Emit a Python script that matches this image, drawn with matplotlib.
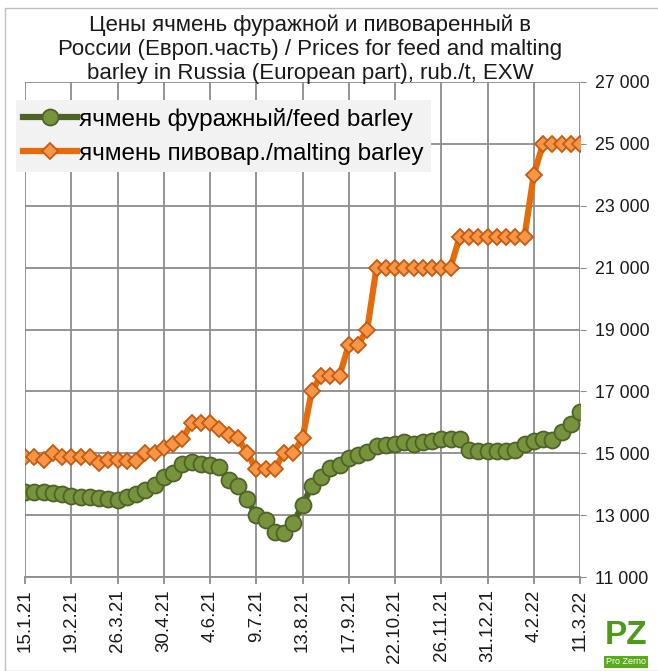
import matplotlib.pyplot as plt
from matplotlib.patches import Rectangle
from matplotlib.ticker import FuncFormatter

plt.rcParams['font.family'] = ['Liberation Sans', 'DejaVu Sans']

# weekly dates, one label every 5 weeks
tick_labels = ["15.1.21", "19.2.21", "26.3.21", "30.4.21", "4.6.21", "9.7.21",
               "13.8.21", "17.9.21", "22.10.21", "26.11.21", "31.12.21",
               "4.2.22", "11.3.22"]

feed_barley = [13750, 13750, 13750, 13720, 13680, 13620, 13570, 13570, 13540, 13520,
               13500, 13600, 13670, 13800, 13960, 14220, 14370, 14640, 14730, 14640,
               14620, 14540, 14140, 13940, 13520, 13000, 12840, 12460, 12430, 12750,
               13320, 13940, 14240, 14510, 14620, 14840, 14940, 15050, 15220, 15270,
               15300, 15350, 15300, 15350, 15400, 15460, 15460, 15450, 15110, 15080,
               15080, 15080, 15080, 15110, 15290, 15410, 15450, 15430, 15700, 15940,
               16320]

malting_barley = [14870, 14870, 14780, 15020, 14870, 14870, 14870, 14870, 14700, 14780,
                  14780, 14750, 14760, 15020, 15020, 15160, 15300, 15460, 15970, 15970,
                  15970, 15780, 15590, 15490, 15020, 14480, 14480, 14480, 15020, 15020,
                  15490, 17000, 17500, 17500, 17500, 18500, 18500, 19000, 21000, 21000,
                  21000, 21000, 21000, 21000, 21000, 21000, 21000, 22000, 22000, 22000,
                  22000, 22000, 22000, 22000, 22000, 24000, 25000, 25000, 25000, 25000,
                  25000]

title = ("Цены ячмень фуражной и пивоваренный в\n"
         "России (Европ.часть) / Prices for feed and malting\n"
         "barley in Russia (European part), rub./t, EXW")

grid_color = "#8c8c8c"

fig = plt.figure(figsize=(6.58, 6.71), dpi=100)
ax = fig.add_axes([25 / 658, 1 - 577 / 671, 555 / 658, 495 / 671])

weeks = list(range(len(feed_barley)))

ax.plot(weeks, feed_barley, color="#4f6228", linewidth=4.5, marker="o",
        markersize=11.5, markerfacecolor="#77933c", markeredgecolor="#4f6228",
        markeredgewidth=1.3, label="ячмень фуражный/feed barley", zorder=3)
ax.plot(weeks, malting_barley, color="#e46c0a", linewidth=4.5, marker="D",
        markersize=8.5, markerfacecolor="#f79646", markeredgecolor="#c55a11",
        markeredgewidth=1.3, label="ячмень пивовар./malting barley", zorder=4)

ax.set_xlim(0, len(weeks) - 1)
ax.set_ylim(11000, 27000)

ax.set_xticks(range(0, len(weeks), 5))
ax.set_xticklabels(tick_labels, rotation=90, fontsize=13.5, color="#1a1a1a")
ax.set_yticks(range(11000, 27001, 2000))
ax.yaxis.set_major_formatter(FuncFormatter(lambda v, p: "{:,.0f}".format(v).replace(",", " ")))
ax.yaxis.tick_right()
ax.tick_params(axis="y", labelsize=12.8, labelcolor="#1a1a1a", length=4,
               color=grid_color, pad=7)
ax.tick_params(axis="x", length=5, color=grid_color, width=1.3, pad=4)

ax.grid(True, color=grid_color, linewidth=1.3)
for side in ["top", "left", "right"]:
    ax.spines[side].set_visible(False)
ax.spines["bottom"].set_color(grid_color)
ax.spines["bottom"].set_linewidth(1.3)
ax.set_axisbelow(True)

leg = ax.legend(loc="upper left", bbox_to_anchor=(-0.016, 0.963), fontsize=17.5,
                handlelength=2.2, handletextpad=0.1, borderpad=0.3,
                labelspacing=0.5, frameon=True, fancybox=False,
                borderaxespad=0)
leg.get_frame().set_facecolor("#f2f2f2")
leg.get_frame().set_edgecolor("none")
leg.get_frame().set_alpha(1)

fig.text(310 / 658, 1 - 14 / 671, title, ha="center", va="top", fontsize=16,
         linespacing=1.2, color="#1a1a1a")

# outer chart border
fig.patches.append(Rectangle((5 / 658, 0), 1.2, 1 - 8 / 671, transform=fig.transFigure,
                             fill=False, edgecolor="#bfbfbf", linewidth=1))

# logo
fig.text(626 / 658, 1 - 636 / 671, "PZ", ha="center", va="center", fontsize=24,
         fontweight="bold", color="#4e9a1a")
fig.text(626 / 658, 1 - 662 / 671, "Pro Zerno", ha="center", va="center",
         fontsize=6.5, color="white",
         bbox=dict(facecolor="#5aaa1e", edgecolor="none", pad=1.2))

fig.savefig("out.png", dpi=100)
